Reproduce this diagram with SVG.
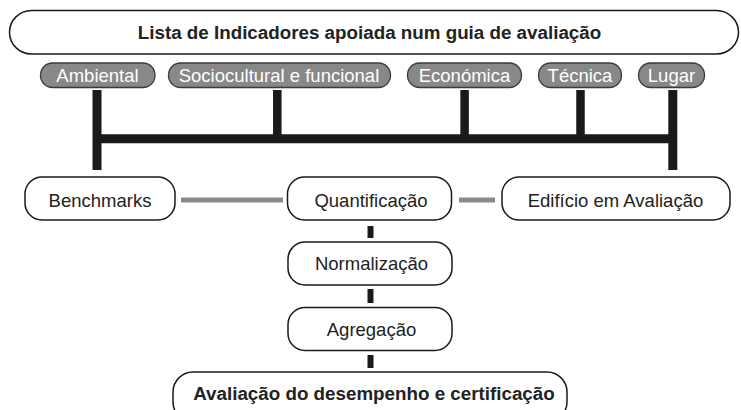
<svg xmlns="http://www.w3.org/2000/svg" width="741" height="410" viewBox="0 0 741 410">
<style>
.box{fill:#fff;stroke:#1a1a1a;stroke-width:1.5}
.pill{fill:#888;stroke:#3a3a3a;stroke-width:1.3}
.t{font-family:"Liberation Sans",Arial,sans-serif;font-size:18.5px;fill:#222;text-anchor:middle}
.b{font-weight:bold;font-size:18.8px}
.w{fill:#fff}
.bar{stroke:#1a1a1a;fill:none}
.gray{stroke:#8a8a8a;stroke-width:5;fill:none}
</style>
<rect width="741" height="410" fill="#fff"/>
<g id="title"><rect class="box" x="9.5" y="10.5" width="729" height="43.5" rx="22"/><text class="t b" x="369.5" y="39">Lista de Indicadores apoiada num guia de avaliação</text></g>
<g id="ambiental"><rect class="pill" x="40.5" y="63" width="114.5" height="24.5" rx="12"/><text class="t w" x="97.5" y="82">Ambiental</text></g>
<g id="sociocultural"><rect class="pill" x="168.5" y="63" width="222" height="24.5" rx="12"/><text class="t w" x="279" y="82">Sociocultural e funcional</text></g>
<g id="economica"><rect class="pill" x="407.5" y="63" width="114" height="24.5" rx="12"/><text class="t w" x="464.5" y="82">Económica</text></g>
<g id="tecnica"><rect class="pill" x="538.5" y="63" width="83" height="24.5" rx="12"/><text class="t w" x="580" y="82">Técnica</text></g>
<g id="lugar"><rect class="pill" x="638.5" y="63" width="66" height="24.5" rx="12"/><text class="t w" x="671.5" y="82">Lugar</text></g>
<g id="connectors">
<path class="bar" stroke-width="9" d="M97 90V170M672.8 90V170M92.5 138.8H677.3"/>
<path class="bar" stroke-width="8.5" d="M277.3 90V139M464.6 90V139M580.5 90V139"/>
<path class="gray" d="M181 200H283M459 200H495"/>
<path class="bar" stroke-width="6" d="M370.5 226V238M370.5 289V303M370.5 355V368"/>
</g>
<g id="benchmarks"><rect class="box" x="25" y="177" width="150" height="43" rx="17"/><text class="t" x="100" y="207">Benchmarks</text></g>
<g id="quantificacao"><rect class="box" x="287.5" y="177" width="164" height="43" rx="17"/><text class="t" x="371" y="207">Quantificação</text></g>
<g id="edificio"><rect class="box" x="502" y="177" width="228" height="43" rx="17"/><text class="t" x="615.5" y="207">Edifício em Avaliação</text></g>
<g id="normalizacao"><rect class="box" x="288" y="242" width="164" height="43" rx="17"/><text class="t" x="371.5" y="270">Normalização</text></g>
<g id="agregacao"><rect class="box" x="288" y="307.5" width="164" height="43" rx="17"/><text class="t" x="371.5" y="336">Agregação</text></g>
<g id="avaliacao"><rect class="box" x="173" y="372" width="394" height="50" rx="20"/><text class="t b" x="374" y="400">Avaliação do desempenho e certificação</text></g>
</svg>
